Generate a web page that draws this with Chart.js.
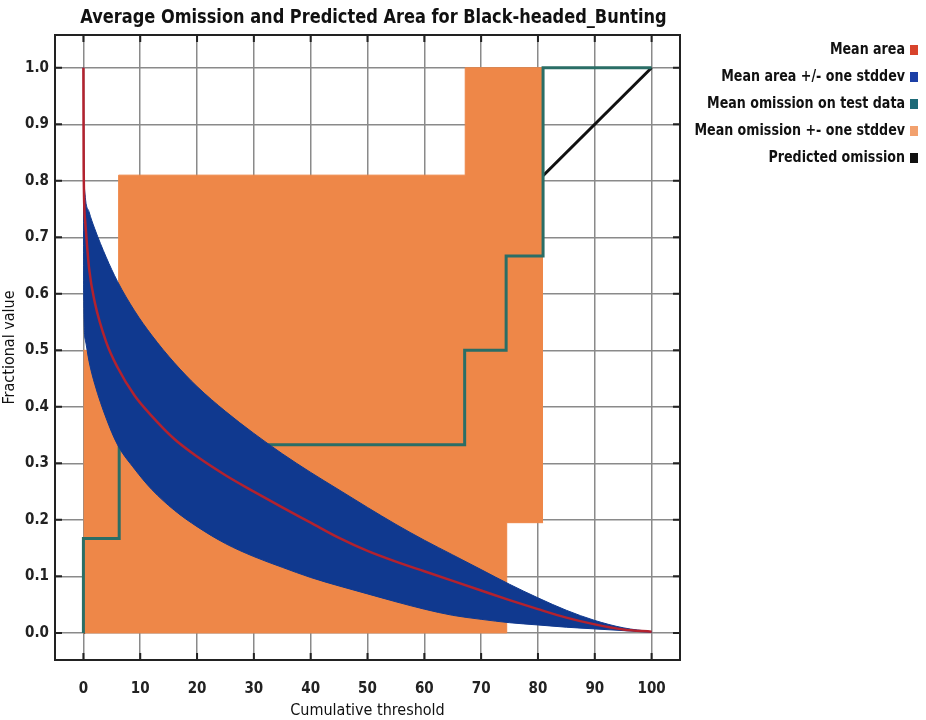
<!DOCTYPE html>
<html>
<head>
<meta charset="utf-8">
<script src="https://cdn.jsdelivr.net/npm/chart.js@4.4.1/dist/chart.umd.min.js"></script>
<style>
    html, body { margin: 0; padding: 0; background: #fff; }
    #wrap { width: 926px; height: 720px; }
</style>
</head>
<body>
<div id="wrap"><canvas id="omissionChart" width="926" height="720"></canvas></div>
<script>
// x positions shared by the mean area curve and its stddev band
const areaX     = [0, 0.05, 0.3, 1, 2, 4, 6, 9, 12, 16, 20, 25, 30, 35, 40, 45, 50, 55, 60, 65, 70, 75, 80, 85, 90, 95, 100];
const meanArea  = [1.0, 0.82, 0.73, 0.645, 0.585, 0.515, 0.47, 0.42, 0.384, 0.343, 0.312, 0.279, 0.25, 0.222, 0.195, 0.168, 0.145, 0.126, 0.109, 0.092, 0.075, 0.058, 0.042, 0.027, 0.015, 0.006, 0.002];
const areaUpper = [1.0, 0.86, 0.775, 0.745, 0.715, 0.665, 0.622, 0.57, 0.527, 0.478, 0.436, 0.392, 0.353, 0.317, 0.284, 0.253, 0.222, 0.192, 0.164, 0.138, 0.112, 0.086, 0.062, 0.04, 0.022, 0.009, 0.002];
const areaLower = [1.0, 0.6, 0.52, 0.48, 0.44, 0.38, 0.333, 0.29, 0.254, 0.217, 0.188, 0.158, 0.135, 0.116, 0.098, 0.083, 0.069, 0.055, 0.042, 0.031, 0.024, 0.018, 0.014, 0.01, 0.007, 0.004, 0.001];

// mean omission on test data (step line)
const omissionX    = [0, 0, 6.3, 6.3, 67.1, 67.1, 74.4, 74.4, 80.9, 80.9, 100];
const omissionMean = [0, 0.167, 0.167, 0.333, 0.333, 0.5, 0.5, 0.667, 0.667, 1.0, 1.0];

// mean omission +- one stddev (band edges)
const omUpperX = [0, 6.2, 6.2, 67.2, 67.2, 80.9];
const omUpper  = [0.5, 0.5, 0.81, 0.81, 1.0, 1.0];
const omLowerX = [0, 74.5, 74.5, 80.9];
const omLower  = [0, 0, 0.195, 0.195];

// predicted omission
const predX = [0, 100];
const predY = [0, 1.0];

const xTicks = [0, 10, 20, 30, 40, 50, 60, 70, 80, 90, 100];
const yTicks = [0, 0.1, 0.2, 0.3, 0.4, 0.5, 0.6, 0.7, 0.8, 0.9, 1.0];

const legendLabels = ['Mean area', 'Mean area +/- one stddev', 'Mean omission on test data', 'Mean omission +- one stddev', 'Predicted omission'];
const legendColors = ['#d8432c', '#1c3fa6', '#1d6a78', '#f2a16e', '#111111'];

const FONT = '"Liberation Sans Narrow", "DejaVu Sans Condensed", "Arial Narrow", sans-serif';

const pts = (xs, ys) => xs.map((x, i) => ({ x: x, y: ys[i] }));

// draws text squeezed horizontally, the source uses a narrow font
function narrowText(ctx, text, x, y, squeeze) {
    ctx.save();
    ctx.translate(x, y);
    ctx.scale(squeeze, 1);
    ctx.fillText(text, 0, 0);
    ctx.restore();
}

const framePlugin = {
    id: 'frame',
    afterDraw(chart) {
        const ctx = chart.ctx;
        const a = chart.chartArea;
        const xs = chart.scales.x, ys = chart.scales.y;
        ctx.save();
        ctx.strokeStyle = '#222';
        ctx.lineWidth = 2;
        ctx.strokeRect(a.left, a.top, a.right - a.left, a.bottom - a.top);
        ctx.beginPath();
        xTicks.forEach(v => {
            const p = xs.getPixelForValue(v);
            ctx.moveTo(p, a.bottom); ctx.lineTo(p, a.bottom - 7);
            ctx.moveTo(p, a.top); ctx.lineTo(p, a.top + 7);
        });
        yTicks.forEach(v => {
            const p = ys.getPixelForValue(v);
            ctx.moveTo(a.left, p); ctx.lineTo(a.left + 7, p);
            ctx.moveTo(a.right, p); ctx.lineTo(a.right - 7, p);
        });
        ctx.stroke();

        // title
        ctx.fillStyle = '#111';
        ctx.font = 'bold 20px ' + FONT;
        ctx.textAlign = 'center';
        ctx.textBaseline = 'middle';
        narrowText(ctx, 'Average Omission and Predicted Area for Black-headed_Bunting', (a.left + a.right) / 2 + 6, 18, 0.9);

        // legend on the right
        ctx.font = 'bold 16px ' + FONT;
        ctx.textAlign = 'right';
        legendLabels.forEach((lbl, i) => {
            const y = 50 + i * 27;
            ctx.fillStyle = '#111';
            narrowText(ctx, lbl, 905, y, 0.88);
            ctx.fillStyle = legendColors[i];
            ctx.fillRect(910, y - 5, 8, 10);
        });
        ctx.restore();
    }
};

const tickFont = { family: FONT, size: 15, weight: 'bold' };

new Chart(document.getElementById('omissionChart'), {
    type: 'line',
    data: {
        datasets: [
            {
                label: 'Mean area',
                data: pts(areaX, meanArea),
                borderColor: '#b3222e',
                borderWidth: 2.5,
                cubicInterpolationMode: 'monotone',
                pointRadius: 0,
                fill: false,
                order: 1
            },
            {
                label: 'Mean area +/- one stddev',
                data: pts(areaX, areaUpper),
                borderColor: '#10398f',
                backgroundColor: '#10398f',
                borderWidth: 1,
                cubicInterpolationMode: 'monotone',
                pointRadius: 0,
                fill: 2,
                order: 3
            },
            {
                label: 'area lower',
                data: pts(areaX, areaLower),
                borderColor: '#10398f',
                borderWidth: 1,
                cubicInterpolationMode: 'monotone',
                pointRadius: 0,
                fill: false,
                order: 3
            },
            {
                label: 'Mean omission on test data',
                data: pts(omissionX, omissionMean),
                borderColor: '#2a6e66',
                borderWidth: 3,
                pointRadius: 0,
                tension: 0,
                fill: false,
                order: 4
            },
            {
                label: 'Mean omission +- one stddev',
                data: pts(omUpperX, omUpper),
                borderColor: '#ee8748',
                backgroundColor: '#ee8748',
                borderWidth: 1,
                pointRadius: 0,
                tension: 0,
                fill: 5,
                order: 5
            },
            {
                label: 'omission lower',
                data: pts(omLowerX, omLower),
                borderColor: '#ee8748',
                borderWidth: 1,
                pointRadius: 0,
                tension: 0,
                fill: false,
                order: 5
            },
            {
                label: 'Predicted omission',
                data: pts(predX, predY),
                borderColor: '#111',
                borderWidth: 3,
                pointRadius: 0,
                fill: false,
                order: 6
            }
        ]
    },
    options: {
        responsive: false,
        animation: false,
        layout: { padding: { left: 0, top: 35, right: 246, bottom: 0 } },
        plugins: {
            legend: { display: false },
            tooltip: { enabled: false }
        },
        scales: {
            x: {
                type: 'linear',
                min: -5,
                max: 105,
                afterBuildTicks: axis => { axis.ticks = xTicks.map(v => ({ value: v })); },
                afterFit: axis => { axis.height = 60; },
                grid: { color: '#8a8a8a', lineWidth: 1.5, drawTicks: false },
                border: { display: false },
                ticks: { font: tickFont, color: '#222', padding: 20, maxRotation: 0 },
                title: { display: true, text: 'Cumulative threshold', font: { family: FONT, size: 16 }, color: '#111', padding: 0 }
            },
            y: {
                min: -0.048,
                max: 1.058,
                afterBuildTicks: axis => { axis.ticks = yTicks.map(v => ({ value: v })); },
                afterFit: axis => { axis.width = 55; },
                grid: { color: '#8a8a8a', lineWidth: 1.5, drawTicks: false },
                border: { display: false },
                ticks: { font: tickFont, color: '#222', padding: 6, callback: v => v.toFixed(1) },
                title: { display: true, text: 'Fractional value', font: { family: FONT, size: 16 }, color: '#111', padding: 0 }
            }
        }
    },
    plugins: [framePlugin]
});
</script>
</body>
</html>
